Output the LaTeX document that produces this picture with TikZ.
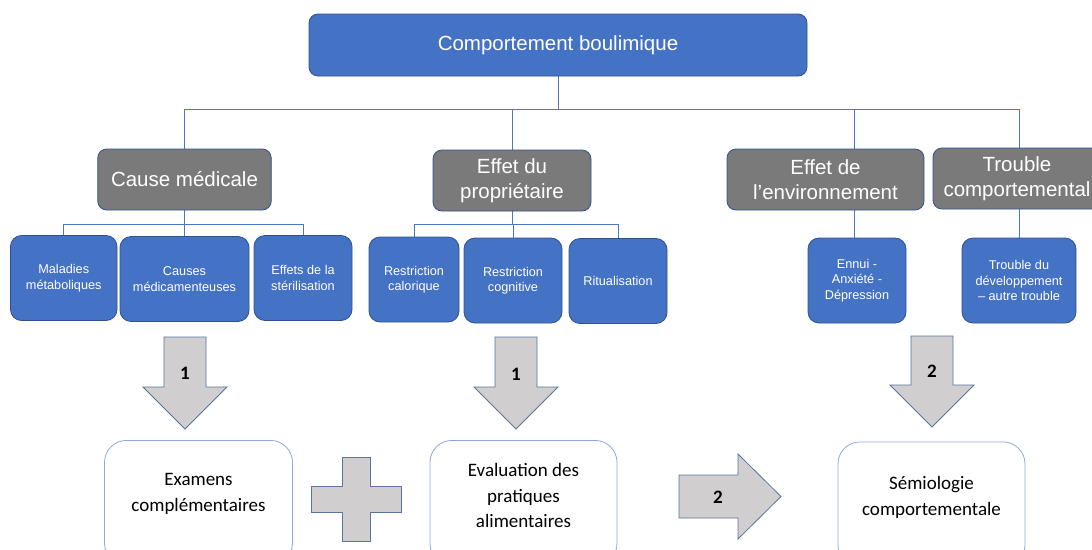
\documentclass[tikz,border=0pt]{standalone}
\usepackage{fontspec}
\setmainfont{Liberation Sans}
\newfontfamily\calib{Carlito}
\usetikzlibrary{backgrounds,calc}
\definecolor{blueF}{HTML}{4472C4}
\definecolor{blueB}{HTML}{2F528F}
\definecolor{grayF}{HTML}{7A7A7A}
\definecolor{lineC}{HTML}{4A78C8}
\definecolor{lightB}{HTML}{8EA9DB}
\definecolor{arrF}{HTML}{D0CECE}
\definecolor{arrB}{HTML}{5B739F}
\newcommand\blockdown[4]{%
  \draw[blockarrow] (#1-21,#2) -- (#1+21,#2) -- (#1+21,#3) -- (#1+42,#3) -- (#1,#4) -- (#1-42,#3) -- (#1-21,#3) -- cycle;}
\begin{document}
\begin{tikzpicture}[x=1pt,y=-1pt,
  topbox/.style={draw=blueB, line width=0.8pt, fill=blueF, rounded corners=9pt, text=white,
    font=\fontsize{20.5}{24.6}\selectfont, minimum height=62pt, inner sep=0pt},
  catbox/.style={draw=blueB, line width=0.8pt, fill=grayF, rounded corners=9pt, text=white,
    font=\fontsize{20.5}{25}\selectfont, align=center, minimum height=61pt, inner sep=0pt},
  leafbox/.style={draw=blueB, line width=0.8pt, fill=blueF, rounded corners=11pt, text=white,
    font=\fontsize{12.7}{15.5}\selectfont, align=center, minimum height=85pt, inner sep=0pt},
  outbox/.style={draw=lightB, line width=0.8pt, fill=white, rounded corners=22pt,
    minimum height=125pt, inner sep=0pt},
  outtext/.style={font=\calib\fontsize{19}{25.5}\selectfont, align=center, text=black, inner sep=0pt},
  numlbl/.style={font=\calib\bfseries\fontsize{19}{22}\selectfont, inner sep=0pt},
  blockarrow/.style={draw=arrB, line width=0.8pt, fill=arrF, line join=miter},
  link/.style={draw=lineC, line width=1pt}
]
\useasboundingbox (0,0) rectangle (1092,549);

% top level
\node[topbox, minimum width=498pt] (top) at (558,45) {Comportement boulimique};

% categories
\node[catbox, minimum width=173.5pt] (cause) at (184.5,179.5) {Cause médicale};
\node[catbox, minimum width=158pt] (prop) at (512,180.5) {Effet du\\propriétaire};
\node[catbox, minimum width=197pt] (env) at (825.5,179.5) {Effet de\\l’environnement};
\node[catbox, minimum width=168pt] (trbl) at (1017,178.5) {Trouble\\comportemental};

% leaves
\node[leafbox, minimum width=106.5pt] (mal) at (63.75,278) {Maladies\\métaboliques};
\node[leafbox, minimum width=129pt] (medic) at (184.5,279) {Causes\\médicamenteuses};
\node[leafbox, minimum width=98pt] (steril) at (303,278) {Effets de la\\stérilisation};
\node[leafbox, minimum width=90pt] (calo) at (414,279.5) {Restriction\\calorique};
\node[leafbox, minimum width=98pt] (cogn) at (513,280.5) {Restriction\\cognitive};
\node[leafbox, minimum width=98pt] (ritu) at (618,281) {Ritualisation};
\node[leafbox, minimum width=98pt] (ennui) at (857,280.5) {Ennui -\\Anxiété -\\Dépression};
\node[leafbox, minimum width=114pt] (devel) at (1019,280.5) {Trouble du\\développement\\– autre trouble};

% connectors
\begin{scope}[on background layer]
  \coordinate (bus) at (0,109);
  \coordinate (cbar) at (0,224);
  \draw[link] (top.south) -- (top.south |- bus);
  \draw[link] (cause.north) -- (cause.north |- bus) -- (devel.north |- bus) -- (devel.north);
  \draw[link] (prop.north) -- (prop.north |- bus);
  \coordinate (envdrop) at ($(ennui.north)+(-3,0)$);
  \draw[link] (envdrop) -- (envdrop |- bus);
  \draw[link] (cause.south) -- (cause.south |- cbar);
  \draw[link] (mal.north) -- (mal.north |- cbar) -- (steril.north |- cbar) -- (steril.north);
  \draw[link] (medic.north) -- (medic.north |- cbar);
  \draw[link] (prop.south) -- (prop.south |- cbar);
  \draw[link] (calo.north) -- (calo.north |- cbar) -- (ritu.north |- cbar) -- (ritu.north);
  \draw[link] (cogn.north) -- (cogn.north |- cbar);
\end{scope}

% block arrows
\blockdown{185}{337}{387}{429}
\blockdown{516}{337}{387}{429}
\blockdown{932}{336}{385}{427}
\draw[blockarrow] (679,475) -- (738,475) -- (738,454) -- (781,496.5) -- (738,539) -- (738,518) -- (679,518) -- cycle;
\draw[blockarrow] (342,457) -- (370,457) -- (370,486) -- (401,486) -- (401,512) -- (370,512) -- (370,541) -- (342,541) -- (342,512) -- (311,512) -- (311,486) -- (342,486) -- cycle;
\node[numlbl] (n1) at (185,373) {1};
\node[numlbl] (n2) at (516,374) {1};
\node[numlbl] (n3) at (932,371) {2};
\node[numlbl] (n4) at (718,497) {2};

% bottom boxes
\node[outbox, minimum width=188pt, anchor=north] (exam) at (198.5,440) {};
\node[outtext] (examt) at (198.5,494) {Examens\\complémentaires};
\node[outbox, minimum width=187pt, anchor=north] (eval) at (523.5,440) {};
\node[outtext] (evalt) at (523.5,495.5) {Evaluation des\\pratiques\\alimentaires};
\node[outbox, minimum width=187pt, anchor=north] (semio) at (931.5,441.5) {};
\node[outtext] (semiot) at (931.5,497.5) {Sémiologie\\comportementale};
\end{tikzpicture}
\end{document}
